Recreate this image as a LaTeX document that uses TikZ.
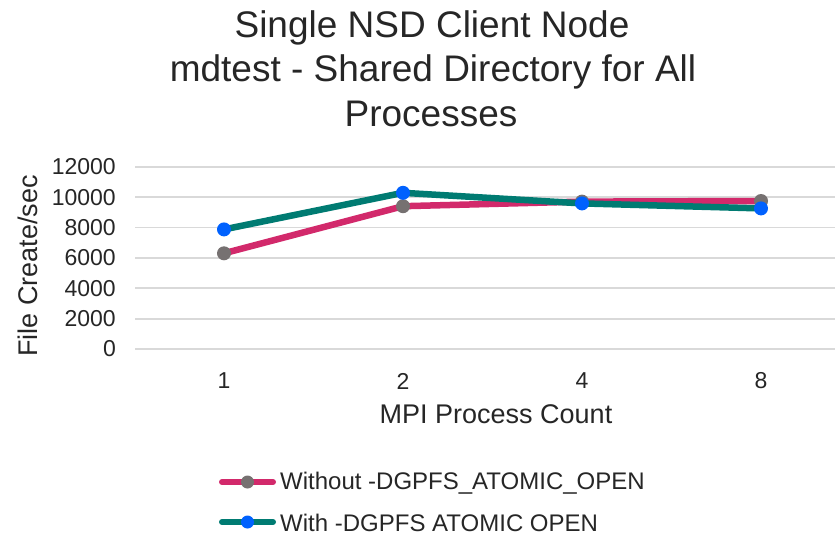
\documentclass[tikz,border=0pt]{standalone}
\usepackage{fontspec}
\setmainfont{Liberation Sans}
\definecolor{pinkline}{HTML}{D2296B}
\definecolor{tealline}{HTML}{007B72}
\definecolor{graymark}{HTML}{767171}
\definecolor{bluemark}{HTML}{0061FE}
\definecolor{gridc}{HTML}{D9D9D9}
\definecolor{txt}{HTML}{262626}
\tikzset{
  gridline/.style={draw=gridc, line width=1.8pt},
  ticklab/.style={font=\fontsize{23}{26}\selectfont, text=txt, inner sep=0pt},
  axlab/.style={font=\fontsize{27}{30}\selectfont, text=txt, inner sep=0pt},
  titlelab/.style={font=\fontsize{37}{40}\selectfont, text=txt, inner sep=0pt},
  leglab/.style={font=\fontsize{24}{27}\selectfont, text=txt, inner sep=0pt, anchor=west},
  seriesA/.style={draw=pinkline, line width=6.5pt, line cap=round, line join=round},
  seriesB/.style={draw=tealline, line width=6.5pt, line cap=round, line join=round},
  markA/.style={circle, fill=graymark, minimum size=14pt, inner sep=0pt},
  markB/.style={circle, fill=bluemark, minimum size=14pt, inner sep=0pt}
}
\begin{document}
\begin{tikzpicture}[x=1pt, y=-1pt]
\useasboundingbox (0,0) rectangle (837,536);
% title
\node[titlelab] (t1) at (432,28) {Single NSD Client Node};
\node[titlelab] (t2) at (433,72) {mdtest - Shared Directory for All};
\node[titlelab] (t3) at (431,114) {Processes};
% grid
\foreach \k/\v in {0/0,1/2000,2/4000,3/6000,4/8000,5/10000,6/12000}{
  \pgfmathsetmacro{\yy}{349-\k*30.38}
  \draw[gridline] (135,\yy) -- (835,\yy);
  \node[ticklab, anchor=east] (yt\k) at (116,\yy) {\v};
}
% x tick labels
\node[ticklab] (x1) at (224,381) {1};
\node[ticklab] (x2) at (403,381) {2};
\node[ticklab] (x4) at (582,381) {4};
\node[ticklab] (x8) at (761,381) {8};
% axis titles
\node[axlab] (xl) at (496,414) {MPI Process Count};
\node[axlab, rotate=90] (yl) at (28,266) {File Create/sec};
% data coordinates
\coordinate (a1) at (224,253.3);
\coordinate (a2) at (403,206.2);
\coordinate (a4) at (582,201.6);
\coordinate (a8) at (761,201.0);
\coordinate (b1) at (224,229.4);
\coordinate (b2) at (403,192.8);
\coordinate (b4) at (582,203.4);
\coordinate (b8) at (761,208.4);
% series A
\draw[seriesA] (a1) -- (a2) -- (a4) -- (a8);
\foreach \p in {a1,a2,a4,a8}{ \node[markA] at (\p) {}; }
% series B
\draw[seriesB] (b1) -- (b2) -- (b4) -- (b8);
\foreach \p in {b1,b2,b4,b8}{ \node[markB] at (\p) {}; }
% legend
\coordinate (la0) at (222,482);
\coordinate (la1) at (273,482);
\draw[seriesA, line width=6pt] (la0) -- (la1);
\node[markA, minimum size=13pt] (lma) at (247.5,482) {};
\node[leglab] (lta) at (280,483) {Without -DGPFS\_ATOMIC\_OPEN};
\coordinate (lb0) at (222,522);
\coordinate (lb1) at (273,522);
\draw[seriesB, line width=6pt] (lb0) -- (lb1);
\node[markB, minimum size=13pt] (lmb) at (247.5,522) {};
\node[leglab] (ltb) at (280,523) {With -DGPFS ATOMIC OPEN};
\end{tikzpicture}
\end{document}
